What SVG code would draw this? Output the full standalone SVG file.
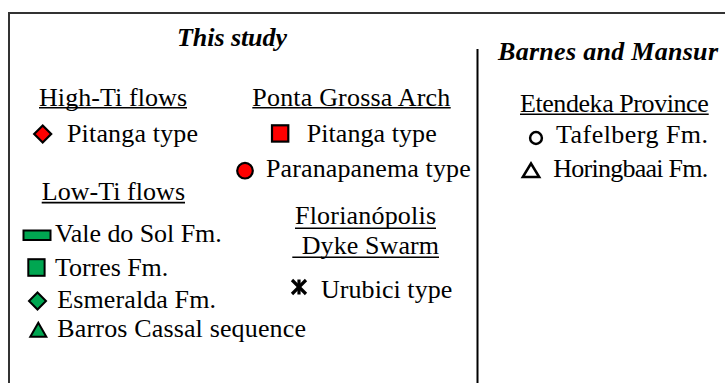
<svg xmlns="http://www.w3.org/2000/svg" width="725" height="383" viewBox="0 0 725 383">
<style>
  text { font-family: 'Liberation Serif', 'DejaVu Serif', serif; font-size: 26px; fill: #000; }
  .title { font-weight: bold; font-style: italic; }
  .ul { stroke: #000; stroke-width: 1.6; }
  .red { fill: #ff0000; stroke: #000; stroke-width: 2.2; }
  .grn { fill: #00a651; stroke: #000; stroke-width: 2; }
  .open { fill: none; stroke: #000; stroke-width: 2.5; }
</style>
<rect width="725" height="383" fill="#fff"/>
<g id="frame">
  <line x1="8" y1="13" x2="725" y2="13" stroke="#333" stroke-width="2"/>
  <line x1="9" y1="12" x2="9" y2="383" stroke="#333" stroke-width="2"/>
  <line x1="477.5" y1="49" x2="477.5" y2="383" stroke="#000" stroke-width="2"/>
</g>
<g id="connectors"></g>
<g id="title-this-study"><text class="title" x="177" y="46" textLength="110">This study</text></g>
<g id="title-barnes"><text class="title" x="498" y="60" font-size="27" textLength="220">Barnes and Mansur</text></g>

<g id="high-ti">
  <text x="39" y="105.5" textLength="148">High-Ti flows</text>
  <line class="ul" x1="39" y1="107.8" x2="187" y2="107.8"/>
</g>
<g id="high-ti-pitanga">
  <polygon class="red" points="42.7,125.5 51.2,134 42.7,142.5 34.2,134"/>
  <text x="67" y="141.5" textLength="131">Pitanga type</text>
</g>

<g id="ponta-grossa">
  <text x="252.3" y="105.5" textLength="198">Ponta Grossa Arch</text>
  <line class="ul" x1="252.3" y1="107.8" x2="450.7" y2="107.8"/>
</g>
<g id="pga-pitanga">
  <rect class="red" x="272" y="125.3" width="16.3" height="16.3"/>
  <text x="306.7" y="141.5" textLength="130">Pitanga type</text>
</g>
<g id="pga-paranapanema">
  <circle class="red" cx="245" cy="170.7" r="7.8" stroke-width="2.4"/>
  <text x="266" y="176.5" textLength="204.7">Paranapanema type</text>
</g>

<g id="etendeka">
  <text x="520" y="111.5" textLength="188.7">Etendeka Province</text>
  <line class="ul" x1="520" y1="114.2" x2="708.7" y2="114.2"/>
</g>
<g id="tafelberg">
  <circle class="open" cx="536" cy="138" r="5.9"/>
  <text x="556" y="143.3" textLength="152">Tafelberg Fm.</text>
</g>
<g id="horingbaai">
  <polygon class="open" points="531,163.5 522.8,177 539.2,177" stroke-linejoin="miter"/>
  <text x="553.3" y="176.7" textLength="155">Horingbaai Fm.</text>
</g>

<g id="low-ti">
  <text x="41.7" y="200" textLength="143.3">Low-Ti flows</text>
  <line class="ul" x1="41.7" y1="202.6" x2="185" y2="202.6"/>
</g>
<g id="vale-do-sol">
  <rect class="grn" x="23.5" y="230.5" width="27" height="9.5" stroke-width="1.6"/>
  <text x="55" y="242" textLength="166.7">Vale do Sol Fm.</text>
</g>
<g id="torres">
  <rect class="grn" x="28.3" y="259.2" width="16.3" height="16.6"/>
  <text x="55" y="275.7" textLength="113.3">Torres Fm.</text>
</g>
<g id="esmeralda">
  <polygon class="grn" points="37.5,292.5 46,301 37.5,309.5 29,301"/>
  <text x="57.3" y="308.3" textLength="158.7">Esmeralda Fm.</text>
</g>
<g id="barros-cassal">
  <polygon class="grn" points="38.3,322.8 30.3,336.8 46.3,336.8" stroke-width="2.2"/>
  <text x="57.3" y="336.7" textLength="248.7">Barros Cassal sequence</text>
</g>

<g id="florianopolis">
  <text x="295" y="224" textLength="141">Florianópolis</text>
  <line class="ul" x1="295" y1="228.3" x2="436" y2="228.3"/>
  <text x="301.7" y="254" textLength="137.3">Dyke Swarm</text>
  <line class="ul" x1="292.3" y1="257.3" x2="439" y2="257.3"/>
</g>
<g id="urubici">
  <g stroke="#000" stroke-width="3.2" stroke-linecap="butt">
    <line x1="292" y1="280" x2="306" y2="294"/>
    <line x1="306" y1="280" x2="292" y2="294"/>
    <line x1="299" y1="279.5" x2="299" y2="294.5"/>
  </g>
  <text x="321" y="298.3" textLength="131.3">Urubici type</text>
</g>
</svg>
